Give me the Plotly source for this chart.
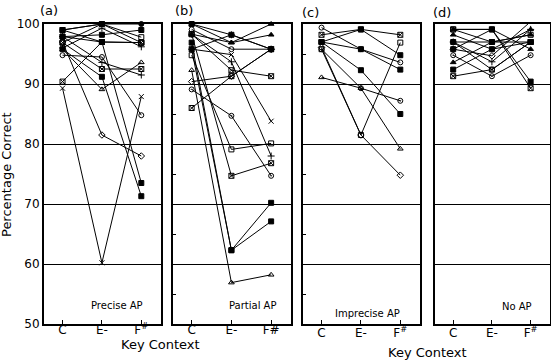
import plotly.graph_objects as go

categories = ["C", "E-", "F#"]
tick_text_a = ["C", "E-", "F<sup>#</sup>"]
tick_text_b = ["C", "E-", "F#"]
y_ticks = [50, 60, 70, 80, 90, 100]
y_tick_labels = ["50", "60", "70", "80", "90", "100"]

# Panel (a) Precise AP
a_sym = ["circle", "square-x-open", "square-open", "square", "cross-thin-open", "square",
         "square-x-open", "square-open", "cross-thin-open", "triangle-up-open", "square",
         "circle-open", "square-x-open", "x-thin-open", "diamond-open"]
a_C = [99.0, 99.0, 99.0, 97.9, 97.9, 97.9, 96.9, 96.9, 96.0, 95.8, 95.8, 94.8, 90.4, 89.3, 97.0]
a_E = [100.0, 97.0, 100.0, 97.0, 93.6, 98.2, 92.5, 100.0, 99.3, 89.1, 91.2, 94.5, 97.0, 60.2, 81.5]
a_F = [100.0, 96.9, 97.8, 73.5, 91.5, 99.0, 92.5, 96.9, 96.2, 93.6, 71.3, 84.8, 96.9, 87.9, 78.0]

# Panel (b) Partial AP
b_sym = ["square", "triangle-up", "circle-open", "x-thin-open", "cross-thin-open", "square-x-open",
         "square", "square", "square-open", "triangle-up-open", "diamond-open", "circle-open-dot",
         "square-x-open", "square-x-open", "triangle-up", "cross-thin-open"]
b_C = [100.0, 100.0, 99.1, 95.8, 98.3, 98.3, 96.9, 95.8, 94.8, 92.3, 90.4, 89.1, 86.0, 98.3, 98.3, 95.8]
b_E = [98.2, 96.9, 95.8, 94.9, 93.7, 92.3, 62.3, 62.3, 79.1, 56.9, 91.3, 84.7, 91.3, 74.7, 96.9, 98.2]
b_F = [95.8, 100.0, 95.8, 83.8, 78.0, 91.3, 70.2, 67.1, 80.1, 58.2, 95.8, 74.7, 95.8, 76.8, 98.2, 95.8]

# Panel (c) Imprecise AP
c_sym = ["circle-open", "square-x-open", "square", "square", "diamond-open", "square-open",
         "triangle-up-open", "square", "circle-open-dot"]
c_C = [99.4, 98.2, 97.0, 97.0, 96.1, 95.8, 91.1, 97.0, 95.8]
c_E = [95.8, 99.1, 99.1, 95.8, 81.5, 81.5, 89.3, 92.3, 89.3]
c_F = [93.6, 98.2, 94.8, 92.4, 74.8, 96.9, 79.2, 85.0, 87.2]

# Panel (d) No AP
d_sym = ["square-x-open", "triangle-up", "square-open", "triangle-up", "square", "cross-thin-open",
         "circle-open", "diamond-open", "square", "circle-open-dot", "triangle-up", "square",
         "square-x-open"]
d_C = [99.1, 99.1, 99.1, 98.2, 97.0, 97.0, 97.0, 95.8, 95.8, 94.8, 93.6, 92.4, 91.3]
d_E = [99.1, 99.1, 97.0, 95.8, 97.0, 93.7, 92.4, 94.7, 99.1, 91.3, 97.0, 95.8, 92.4]
d_F = [89.3, 95.8, 98.2, 99.1, 97.0, 99.1, 97.0, 100.4, 90.4, 94.8, 98.2, 97.0, 97.0]

panels = [
    (a_sym, a_C, a_E, a_F),
    (b_sym, b_C, b_E, b_F),
    (c_sym, c_C, c_E, c_F),
    (d_sym, d_C, d_E, d_F),
]

W, H = 551, 362
x_px = [(44, 161), (173, 291), (303, 420), (435, 550)]
y_top, y_bot = 24, 324
label_shift = [-6, -6, -3, -3]
FONT = "DejaVu Sans"

fig = go.Figure()
for i, (syms, cv, ev, fv) in enumerate(panels):
    ax = "" if i == 0 else str(i + 1)
    for s, c, e, f in zip(syms, cv, ev, fv):
        fig.add_trace(go.Scatter(
            x=[0, 1, 2], y=[c, e, f], mode="lines+markers",
            xaxis="x" + ax, yaxis="y" + ax,
            line=dict(color="black", width=1),
            marker=dict(symbol=s, size=5, color="black",
                        line=dict(color="black", width=1)),
            cliponaxis=False, showlegend=False, hoverinfo="skip"))

layout = dict(
    width=W, height=H, autosize=False, margin=dict(l=0, r=0, t=0, b=0, pad=0),
    paper_bgcolor="white", plot_bgcolor="white",
    font=dict(family=FONT, color="black", size=12),
    showlegend=False,
)
for i in range(4):
    ax = "" if i == 0 else str(i + 1)
    x0, x1 = x_px[i]
    layout["xaxis" + ax] = dict(
        domain=[x0 / W, x1 / W], range=[-0.47, 2.5], anchor="y" + ax,
        tickvals=[0, 1, 2], ticktext=(tick_text_b if i == 1 else tick_text_a),
        ticks="inside", ticklen=4, tickcolor="black", tickwidth=1,
        ticklabelstandoff=label_shift[i],
        showline=True, mirror=True, linecolor="black", linewidth=2,
        showgrid=False, zeroline=False, tickfont=dict(size=12, family=FONT),
        automargin=False, fixedrange=True)
    ydict = dict(
        domain=[1 - y_bot / H, 1 - y_top / H], range=[50, 100], anchor="x" + ax,
        tickvals=y_ticks, ticktext=y_tick_labels,
        showline=True, mirror=True, linecolor="black", linewidth=2,
        showgrid=True, gridcolor="black", gridwidth=1, zeroline=False,
        ticks="", showticklabels=(i == 0), tickfont=dict(size=12, family=FONT),
        automargin=False, fixedrange=True)
    if i in (1, 2):
        ydict["minor"] = dict(tickvals=[55, 65, 75, 85, 95], ticks="inside",
                              ticklen=3, tickcolor="black", showgrid=False)
    layout["yaxis" + ax] = ydict

ann = []
def add(text, xp, yp, size, angle=0):
    ann.append(dict(text=text, x=xp / W, y=1 - yp / H, xref="paper", yref="paper",
                    showarrow=False, xanchor="center", yanchor="middle",
                    textangle=angle, font=dict(size=size, family=FONT, color="black")))

add("(a)", 49, 10, 13)
add("(b)", 183.5, 10, 13)
add("(c)", 310, 13, 13)
add("(d)", 441.5, 12, 13)
add("Precise AP", 116.5, 305, 10)
add("Partial AP", 252.5, 305, 10)
add("Imprecise AP", 367.5, 313, 10)
add("No AP", 517, 306, 10)
add("Key Context", 160, 344, 13)
add("Key Context", 427, 352, 13)
add("Percentage Correct", 7, 175, 13, -90)
layout["annotations"] = ann

fig.update_layout(**layout)
fig.write_html(
    "out.html",
    config={"displayModeBar": False},
    post_script="document.body.style.margin='0';document.body.style.padding='0';"
                "document.body.style.overflow='hidden';",
)
